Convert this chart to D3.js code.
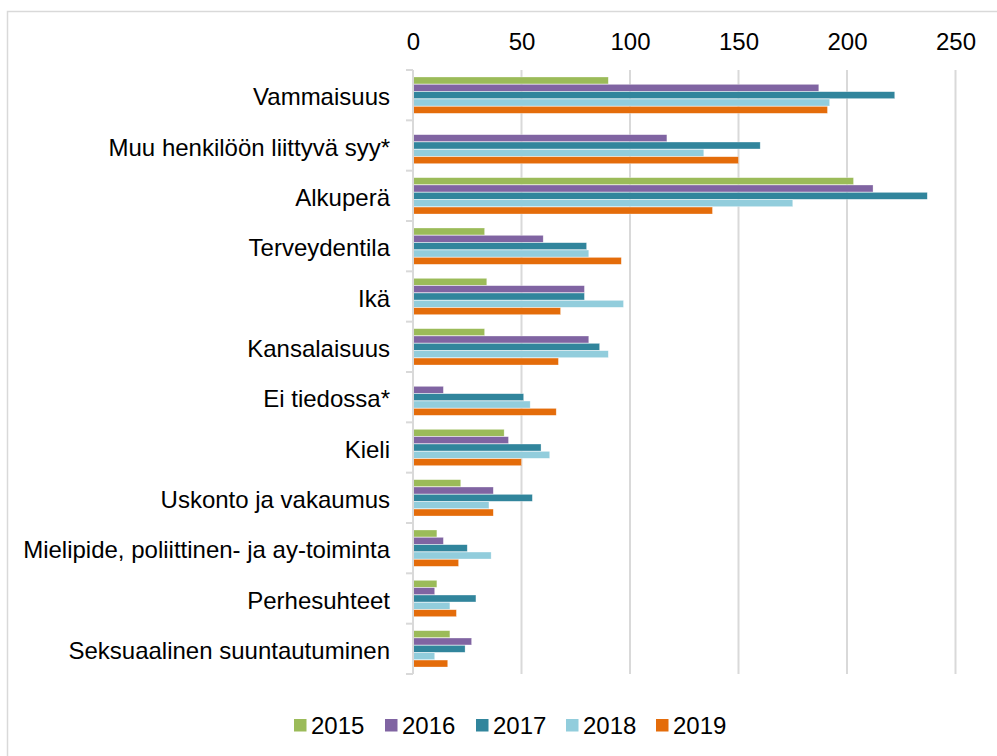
<!DOCTYPE html>
<html>
<head>
<meta charset="utf-8">
<script src="https://cdn.jsdelivr.net/npm/d3@7"></script>
<style>
  html, body { margin: 0; padding: 0; background: #fff; }
  svg { display: block; font-family: "Liberation Sans", Arial, sans-serif; }
</style>
</head>
<body>
<svg id="chart" width="997" height="756"></svg>
<script>
const categories = [
  "Vammaisuus",
  "Muu henkilöön liittyvä syy*",
  "Alkuperä",
  "Terveydentila",
  "Ikä",
  "Kansalaisuus",
  "Ei tiedossa*",
  "Kieli",
  "Uskonto ja vakaumus",
  "Mielipide, poliittinen- ja ay-toiminta",
  "Perhesuhteet",
  "Seksuaalinen suuntautuminen"
];
const years = ["2015", "2016", "2017", "2018", "2019"];
const values2015 = [90, 0, 203, 33, 34, 33, 0, 42, 22, 11, 11, 17];
const values2016 = [187, 117, 212, 60, 79, 81, 14, 44, 37, 14, 10, 27];
const values2017 = [222, 160, 237, 80, 79, 86, 51, 59, 55, 25, 29, 24];
const values2018 = [192, 134, 175, 81, 97, 90, 54, 63, 35, 36, 17, 10];
const values2019 = [191, 150, 138, 96, 68, 67, 66, 50, 37, 21, 20, 16];
const seriesValues = [values2015, values2016, values2017, values2018, values2019];
const colors = ["#9bbb59", "#8064a2", "#31859c", "#92cddc", "#e46c0a"];
const xTicks = [0, 50, 100, 150, 200, 250];

const svg = d3.select("#chart");
const fontSize = 24;
const gridColor = "#d9d9d9";

// outer frame (only left and top edges visible)
svg.append("rect")
  .attr("x", 7.5).attr("y", 11.5)
  .attr("width", 1100).attr("height", 900)
  .attr("fill", "none").attr("stroke", gridColor).attr("stroke-width", 1.5);

const x = d3.scaleLinear().domain([0, 250]).range([413, 955.5]);
const y = d3.scaleBand().domain(categories).range([70, 674])
  .paddingInner(0.27).paddingOuter(0.135);
const ySub = d3.scaleBand().domain(years).range([0, y.bandwidth()]);

// gridlines
svg.append("g").selectAll("line")
  .data(xTicks.filter(t => t > 0))
  .join("line")
  .attr("x1", d => x(d)).attr("x2", d => x(d))
  .attr("y1", 70).attr("y2", 674)
  .attr("stroke", gridColor).attr("stroke-width", 2);

// top axis labels
const xAxis = d3.axisTop(x).tickValues(xTicks).tickSize(0).tickPadding(0);
const gx = svg.append("g").attr("transform", "translate(0,49.5)").call(xAxis);
gx.select(".domain").remove();
gx.selectAll("text")
  .attr("font-size", fontSize)
  .attr("font-family", '"Liberation Sans", Arial, sans-serif')
  .attr("fill", "#000")
  .attr("dy", 0);

// bars
const groups = svg.append("g").selectAll("g")
  .data(categories)
  .join("g")
  .attr("transform", d => `translate(0,${y(d)})`);

groups.selectAll("rect")
  .data((c, i) => years.map((yr, k) => ({ yr, v: seriesValues[k][i], k })))
  .join("rect")
  .attr("x", x(0))
  .attr("y", d => ySub(d.yr) + 0.2)
  .attr("width", d => Math.max(0, x(d.v) - x(0)))
  .attr("height", ySub.bandwidth() - 0.4)
  .attr("fill", d => colors[d.k])
  .attr("stroke", "#ffffff")
  .attr("stroke-opacity", 0.5)
  .attr("stroke-width", 0.6);

// vertical axis with category boundary ticks
const boundaries = d3.range(categories.length + 1).map(i => 70 + i * (604 / categories.length));
svg.append("line")
  .attr("x1", 413).attr("x2", 413).attr("y1", 70).attr("y2", 674)
  .attr("stroke", gridColor).attr("stroke-width", 2);
svg.append("g").selectAll("line")
  .data(boundaries)
  .join("line")
  .attr("x1", 406).attr("x2", 413)
  .attr("y1", d => d).attr("y2", d => d)
  .attr("stroke", gridColor).attr("stroke-width", 2);

// category labels
const yAxis = d3.axisLeft(y).tickSize(0).tickPadding(0);
const gy = svg.append("g").attr("transform", "translate(390,0)").call(yAxis);
gy.select(".domain").remove();
gy.selectAll("text")
  .attr("font-size", fontSize)
  .attr("font-family", '"Liberation Sans", Arial, sans-serif')
  .attr("fill", "#000")
  .attr("dy", "0.42em");

// legend
const legendX = [294, 385, 476, 566, 656];
const legend = svg.append("g").selectAll("g")
  .data(years)
  .join("g")
  .attr("transform", (d, i) => `translate(${legendX[i]},719)`);
legend.append("rect")
  .attr("width", 12.5).attr("height", 12.5)
  .attr("fill", (d, i) => colors[i]);
legend.append("text")
  .attr("x", 17).attr("y", 15.3)
  .attr("font-size", fontSize)
  .attr("fill", "#000")
  .text(d => d);
</script>
</body>
</html>
